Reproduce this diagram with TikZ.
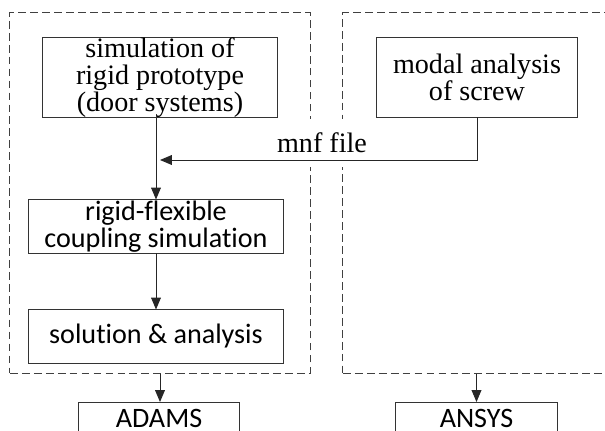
\documentclass[tikz,border=0pt]{standalone}
\usepackage{fontspec}
\setmainfont{Liberation Serif}
\setsansfont{Carlito}[Ligatures=NoCommon]
\usetikzlibrary{arrows.meta, positioning}

\begin{document}
\begin{tikzpicture}[
    x=0.025cm,
    y=-0.025cm,
    line width=0.7pt,
    group/.style={
        rectangle,
        draw=black!75,
        dash pattern=on 5.5pt off 3pt,
        inner sep=0pt
    },
    serifbox/.style={
        rectangle,
        draw=black!80,
        align=center,
        inner sep=0pt,
        font=\rmfamily\fontsize{20pt}{19.2pt}\selectfont
    },
    sansbox/.style={
        rectangle,
        draw=black!80,
        align=center,
        inner sep=0pt,
        font=\sffamily\fontsize{20pt}{19.2pt}\selectfont
    },
    toolbox/.style={
        rectangle,
        anchor=north,
        draw=black!80,
        inner xsep=0pt,
        inner ysep=4.5pt,
        text depth=2pt,
        font=\sffamily\fontsize{20pt}{19.2pt}\selectfont
    },
    filelabel/.style={
        rectangle,
        fill=white,
        minimum width=2.875cm,
        minimum height=1.2cm,
        font=\rmfamily\fontsize{20pt}{19.2pt}\selectfont
    },
    arrow/.style={
        draw=black!85,
        -{Triangle[length=8.5pt,width=7pt]}
    }
]
\clip (0,0) rectangle (605,431);
% DASHED GROUPS
\node (adamsgrp) [group, minimum width=7.5cm, minimum height=9cm] at (160,193) {};
\node (ansysgrp) [group, minimum width=6.925cm, minimum height=9cm] at (481.5,193) {};
% LEFT COLUMN
\node (rigid) [serifbox, minimum width=5.85cm, minimum height=1.975cm] at (160,77.5) {simulation of\\rigid prototype\\(door systems)};
\node (coupling) [sansbox, minimum width=6.35cm, minimum height=1.325cm] at (156,226.5) {rigid-flexible\\coupling simulation};
\node (solution) [sansbox, minimum width=6.35cm, minimum height=1.325cm] at (156,336.5) {solution \& analysis};
% RIGHT COLUMN
\node (modal) [serifbox, minimum width=5cm, minimum height=1.975cm] at (477,77.5) {modal analysis\\of screw};
% MNF LABEL
\node (mnf) [filelabel] at (322,143) {mnf file};
\coordinate (merge) at (160,160);
% TOOLS
\node (adams) [toolbox, minimum width=4cm] at (159,402) {ADAMS};
\node (ansys) [toolbox, minimum width=4.025cm] at (476.5,402) {ANSYS};
% ARROWS
\draw [arrow] (coupling.north |- rigid.south) -- (coupling.north);
\draw [arrow] (coupling.south) -- (solution.north);
\draw [arrow] (modal.south) |- (merge);
\draw [arrow] (adamsgrp.south) -- (adamsgrp.south |- adams.north);
\draw [arrow] (ansys.north |- ansysgrp.south) -- (ansys.north);
\end{tikzpicture}
\end{document}
